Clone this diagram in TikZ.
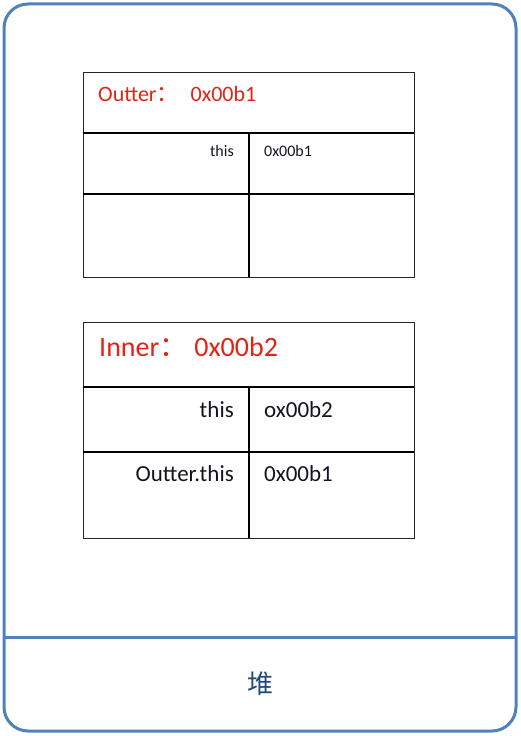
\documentclass[tikz,border=0pt]{standalone}
\usepackage{fontspec}
\setmainfont{Carlito}
\newfontfamily\cjk{Noto Sans CJK SC}
\definecolor{frameblue}{RGB}{79,129,189}
\definecolor{labelblue}{RGB}{31,73,125}
\definecolor{titlered}{RGB}{228,34,22}
\definecolor{textdark}{RGB}{20,20,30}
\tikzset{
  heap/.style={draw=frameblue, line width=3bp, rounded corners=24bp},
  tableframe/.style={draw=black!85, line width=1bp},
  cellline/.style={draw=black, line width=1.8bp},
  titletext/.style={anchor=base west, inner sep=0, text=titlered},
  keytext/.style={anchor=base east, inner sep=0, text=textdark},
  valtext/.style={anchor=base west, inner sep=0, text=textdark},
}
\begin{document}
\begin{tikzpicture}[x=1bp,y=-1bp]
\useasboundingbox (0,0) rectangle (521,736);
% heap frame
\draw[heap] (4,4) rectangle (516,731);
\draw[draw=frameblue, line width=3bp] (4,637) -- (516,637);
\node[text=labelblue, font=\cjk\fontsize{26bp}{30bp}\selectfont] (heaplabel) at (260,684) {堆};

% Outter table
\draw[tableframe] (83,72) rectangle (414,277);
\draw[cellline] (83,133) -- (414,133);
\draw[cellline] (83,194) -- (414,194);
\draw[cellline] (249,133) -- (249,277);
\node[titletext, font=\fontsize{22bp}{26bp}\selectfont] (outtitle) at (98,101.5) {Outter{\cjk ：}\hspace{12bp}0x00b1};
\node[keytext, font=\fontsize{16bp}{19bp}\selectfont] (outthis) at (234,156) {this};
\node[valtext, font=\fontsize{16bp}{19bp}\selectfont] (outthisval) at (264,156) {0x00b1};

% Inner table
\draw[tableframe] (83,322) rectangle (414,538);
\draw[cellline] (83,387) -- (414,387);
\draw[cellline] (83,452) -- (414,452);
\draw[cellline] (249,387) -- (249,538);
\node[titletext, font=\fontsize{28bp}{32bp}\selectfont] (intitle) at (99,356.5) {Inner{\cjk ：}\hspace{7bp}0x00b2};
\node[keytext, font=\fontsize{23bp}{27bp}\selectfont] (inthis) at (234,417) {this};
\node[valtext, font=\fontsize{23bp}{27bp}\selectfont] (inthisval) at (264,417) {ox00b2};
\node[keytext, font=\fontsize{23bp}{27bp}\selectfont] (inouter) at (234,481.5) {Outter.this};
\node[valtext, font=\fontsize{23bp}{27bp}\selectfont] (inouterval) at (264,481.5) {0x00b1};
\end{tikzpicture}
\end{document}
